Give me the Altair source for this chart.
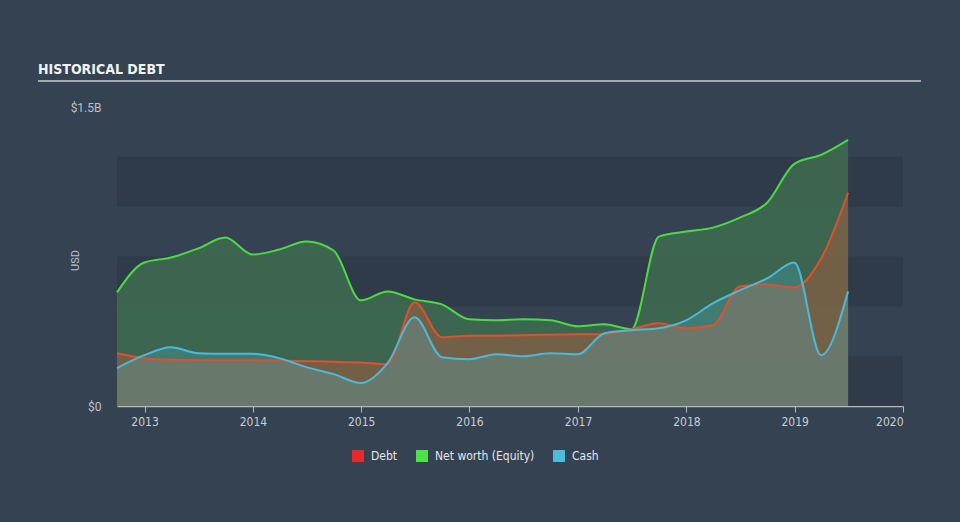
import altair as alt
import pandas as pd

# ---- data (USD billions, quarter ends) ----
dates = ["2012-09-30", "2012-12-31", "2013-03-31", "2013-06-30", "2013-09-30", "2013-12-31",
         "2014-03-31", "2014-06-30", "2014-09-30", "2014-12-31", "2015-03-31", "2015-06-30",
         "2015-09-30", "2015-12-31", "2016-03-31", "2016-06-30", "2016-09-30", "2016-12-31",
         "2017-03-31", "2017-06-30", "2017-09-30", "2017-12-31", "2018-03-31", "2018-06-30",
         "2018-09-30", "2018-12-31", "2019-03-31", "2019-06-30"]
debt = [0.265, 0.24, 0.232, 0.23, 0.23, 0.23, 0.228, 0.225, 0.222, 0.218, 0.21, 0.52,
        0.345, 0.352, 0.353, 0.355, 0.358, 0.36, 0.36, 0.385, 0.415, 0.39, 0.405, 0.60,
        0.61, 0.595, 0.74, 1.07]
equity = [0.57, 0.72, 0.745, 0.79, 0.845, 0.76, 0.785, 0.825, 0.78, 0.53, 0.575, 0.535,
          0.51, 0.435, 0.43, 0.435, 0.43, 0.40, 0.41, 0.385, 0.85, 0.875, 0.895, 0.945,
          1.02, 1.215, 1.26, 1.335]
cash = [0.19, 0.255, 0.295, 0.265, 0.262, 0.262, 0.24, 0.195, 0.16, 0.115, 0.215, 0.445,
        0.245, 0.235, 0.26, 0.25, 0.265, 0.26, 0.365, 0.38, 0.39, 0.43, 0.515, 0.58,
        0.64, 0.72, 0.255, 0.575]

series_names = ["Debt", "Net worth (Equity)", "Cash"]
series_colors = ["#e8282b", "#4ee24a", "#4cbcdf"]

band_lo = [0.0, 0.5, 1.0]
band_hi = [0.25, 0.75, 1.25]

x_start = "2012-09-30"
x_end = "2020-01-01"
year_ticks = [2013, 2014, 2015, 2016, 2017, 2018, 2019, 2020]

df = pd.DataFrame({"date": dates, "debt": debt, "equity": equity, "cash": cash})
bands = pd.DataFrame({"lo": band_lo, "hi": band_hi, "x0": [x_start] * 3, "x1": [x_end] * 3})
legend_df = pd.DataFrame({"series": series_names, "date": [dates[0]] * 3, "v": [0.0] * 3})

NARROW = "DejaVu Sans Condensed"
LABEL = "Roboto, Open Sans, sans-serif"

xscale = alt.Scale(domain=[alt.DateTime(year=2012, month=9, date=30),
                           alt.DateTime(year=2020, month=1, date=1)], nice=False)
yscale = alt.Scale(domain=[0, 1.5], nice=False)

xaxis = alt.Axis(values=[alt.DateTime(year=y, month=1, date=1) for y in year_ticks],
                 format="%Y", title=None, grid=False, domain=True, domainColor="#b3bac2",
                 domainWidth=1.5, ticks=True, tickColor="#b3bac2", tickSize=6, tickWidth=1,
                 labelFont=NARROW, labelFontSize=12, labelColor="#c9ced3", labelPadding=4,
                 labelFlush=True)
yaxis = alt.Axis(values=[0, 1.5], labelExpr="datum.value == 0 ? '$0' : '$1.5B'",
                 title="USD", grid=False, domain=False, ticks=False, labelPadding=16,
                 labelFont=LABEL, labelFontSize=12, labelColor="#bcc2c8",
                 titleFont=LABEL, titleFontSize=11, titleColor="#bcc2c8", titleFontWeight="normal",
                 titleAngle=270, titleX=-42, titleY=153, titleAlign="center", titleBaseline="middle")

base = alt.Chart(df)

band_layer = alt.Chart(bands).mark_rect(color="#2f3b49").encode(
    x=alt.X("x0:T", scale=xscale, axis=xaxis),
    x2="x1:T",
    y=alt.Y("lo:Q", scale=yscale, axis=yaxis),
    y2="hi:Q",
)

eq_area = base.mark_area(interpolate="monotone", color="#3f6e50", opacity=0.82).encode(
    x="date:T", y="equity:Q")
debt_area = base.mark_area(interpolate="monotone", color="#b85a3c", opacity=0.44).encode(
    x="date:T", y="debt:Q")
cash_area = base.mark_area(interpolate="monotone", color="#4fb8d0", opacity=0.27).encode(
    x="date:T", y="cash:Q")

eq_line = base.mark_line(interpolate="monotone", color="#4ed944", strokeWidth=2).encode(
    x="date:T", y="equity:Q")
debt_line = base.mark_line(interpolate="monotone", color="#e0502e", strokeWidth=2).encode(
    x="date:T", y="debt:Q")
cash_line = base.mark_line(interpolate="monotone", color="#4cb9d8", strokeWidth=2).encode(
    x="date:T", y="cash:Q")

legend_layer = alt.Chart(legend_df).mark_square(opacity=0).encode(
    x="date:T", y="v:Q",
    color=alt.Color("series:N",
                    scale=alt.Scale(domain=series_names, range=series_colors),
                    sort=series_names,
                    legend=alt.Legend(title=None, orient="none", direction="horizontal",
                                      legendX=235, legendY=343, symbolType="square",
                                      symbolSize=144, symbolOpacity=1, symbolStrokeWidth=0,
                                      labelFont=NARROW, labelFontSize=12, labelColor="#e4e6e8",
                                      labelOffset=7, columnPadding=18)),
)

title_df = pd.DataFrame({"t": ["HISTORICAL DEBT"]})
title_text = alt.Chart(title_df).mark_text(
    align="left", baseline="alphabetic", font=NARROW, fontSize=14, fontWeight="bold",
    color="#f2f2f2").encode(x=alt.value(-79), y=alt.value(-33), text="t:N")
title_rule = alt.Chart(title_df).mark_rule(color="#a3abb2", strokeWidth=2).encode(
    x=alt.value(-79), x2=alt.value(804), y=alt.value(-26))

chart = alt.layer(
    band_layer, eq_area, debt_area, cash_area, eq_line, debt_line, cash_line,
    legend_layer, title_text, title_rule
).properties(
    width=786, height=299,
    autosize=alt.AutoSizeParams(type="none"),
    padding={"left": 117, "top": 107, "right": 57, "bottom": 116},
    background="#344252",
).configure_view(stroke=None)

chart.save("out.html", embed_options={"renderer": "svg", "actions": False})
